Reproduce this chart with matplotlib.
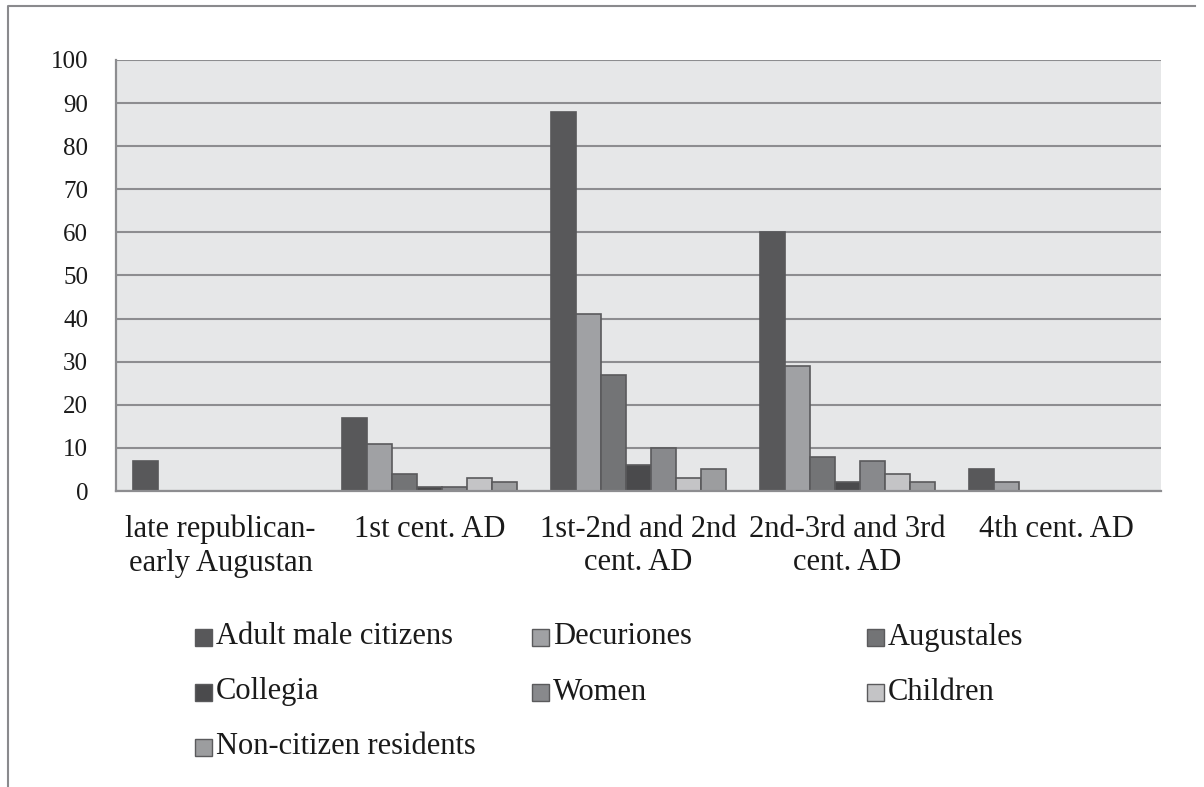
import matplotlib
matplotlib.use("Agg")
import matplotlib.pyplot as plt
import numpy as np
from matplotlib.patches import Rectangle
from matplotlib.lines import Line2D

plt.rcParams['font.family'] = ['Liberation Serif', 'DejaVu Serif']

categories = [
    "late republican-\nearly Augustan",
    "1st cent. AD",
    "1st-2nd and 2nd\ncent. AD",
    "2nd-3rd and 3rd\ncent. AD",
    "4th cent. AD",
]
series_names = [
    "Adult male citizens", "Decuriones", "Augustales",
    "Collegia", "Women", "Children", "Non-citizen residents",
]
adult_male_citizens = [7, 17, 88, 60, 5]
decuriones = [0, 11, 41, 29, 2]
augustales = [0, 4, 27, 8, 0]
collegia = [0, 1, 6, 2, 0]
women = [0, 1, 10, 7, 0]
children = [0, 3, 3, 4, 0]
non_citizen_residents = [0, 2, 5, 2, 0]
yticks = list(range(0, 101, 10))

series_values = [adult_male_citizens, decuriones, augustales, collegia,
                 women, children, non_citizen_residents]
colors = ["#58585a", "#a0a1a4", "#737476", "#4a4a4c",
          "#88898c", "#c4c4c6", "#9c9d9f"]
edge = "#5a5a5c"
grid_c = "#8d8d90"
text_c = "#1a1a1a"

fig = plt.figure(figsize=(12.04, 7.87), dpi=100)
ax = fig.add_axes([0.0963, 0.3761, 0.868, 0.5477])
ax.set_facecolor("#e6e7e8")

n = len(series_names)
x = np.arange(len(categories))
width = 0.119
for i, (vals, col) in enumerate(zip(series_values, colors)):
    offs = (i - (n - 1) / 2) * width
    ax.bar(x + offs, vals, width, color=col, edgecolor=edge if i else col,
           linewidth=1.2, zorder=3)

ax.set_xlim(-0.5, len(categories) - 0.5)
ax.set_ylim(0, 100)
ax.set_yticks(yticks)
ax.set_yticklabels([str(t) for t in yticks], fontsize=18, color=text_c)
ax.set_xticks(x)
ax.set_xticklabels(categories, fontsize=22, linespacing=1.2, color=text_c)
ax.tick_params(axis='both', length=0)
ax.tick_params(axis='y', pad=20)
ax.tick_params(axis='x', pad=17)

ax.grid(axis='y', color=grid_c, linewidth=1.5, zorder=1)
ax.set_axisbelow(True)
for s in ['top', 'right']:
    ax.spines[s].set_visible(False)
for s in ['left', 'bottom']:
    ax.spines[s].set_color(grid_c)
    ax.spines[s].set_linewidth(1.6)
    ax.spines[s].set_zorder(4)

# legend laid out in rows of three
W, H = 1204.0, 787.0
col_x = [195, 532, 867]
row_y = [637, 692, 747]
sq = 17
for k, (name, col) in enumerate(zip(series_names, colors)):
    r, c = divmod(k, 3)
    px, py = col_x[c], row_y[r]
    fig.patches.append(Rectangle((px / W, (H - py - sq / 2) / H), sq / W, sq / H,
                                 transform=fig.transFigure, facecolor=col,
                                 edgecolor=edge, linewidth=1.0))
    fig.text((px + sq + 4) / W, (H - py) / H, name, fontsize=22,
             va='center', ha='left', color=text_c)

# outer frame (top and left edges)
fig.lines.append(Line2D([8 / W, 8 / W, 1195 / W], [0, 1 - 6 / H, 1 - 6 / H],
                        transform=fig.transFigure, color="#8a8a8d", linewidth=1.5))

fig.savefig("out.png", dpi=100)
